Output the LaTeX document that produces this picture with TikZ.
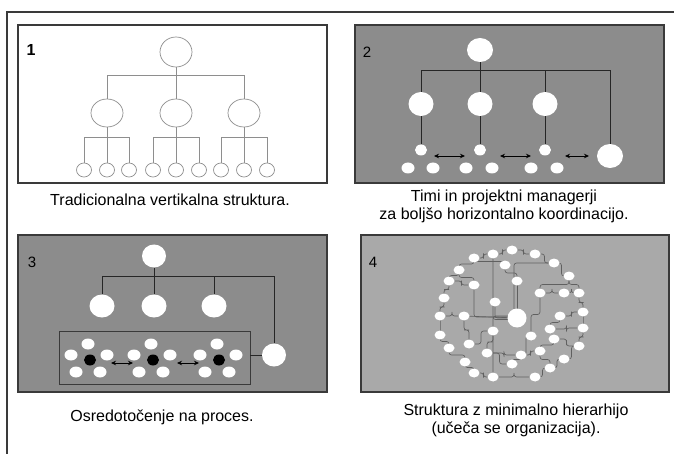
\documentclass[tikz,border=0pt]{standalone}
\usepackage{fontspec}
\setmainfont{Liberation Sans}
\usetikzlibrary{shapes.geometric,arrows.meta,calc}
\definecolor{framegray}{HTML}{3A3A3A}
\definecolor{boxgray}{HTML}{8C8C8C}
\definecolor{lightbox}{HTML}{A9A9A9}
\definecolor{thinline}{HTML}{8E8E8E}
\definecolor{netline}{HTML}{606060}
\begin{document}
\begin{tikzpicture}[x=1pt,y=-1pt,
  panel/.style={draw=framegray, line width=1.2pt},
  hollow/.style={ellipse, draw=thinline, line width=0.7pt, fill=white, inner sep=0pt},
  solid/.style={ellipse, fill=white, draw=none, inner sep=0pt},
  blk/.style={ellipse, fill=black, draw=none, inner sep=0pt, minimum width=12pt, minimum height=11pt},
  treeline/.style={draw=thinline, line width=0.7pt},
  darkline/.style={draw=black!85, line width=0.8pt},
  net/.style={draw=netline, line width=0.65pt, rounded corners=2.5pt},
  twoway/.style={black, line width=0.8pt, {Stealth[length=5pt,width=4.5pt]}-{Stealth[length=5pt,width=4.5pt]}},
  caption/.style={font=\fontsize{16}{18}\selectfont, align=center, inner sep=0pt},
  numlabel/.style={font=\fontsize{15}{16}\selectfont, inner sep=0pt}
]
\useasboundingbox (0,0) rectangle (674,454);
\fill[white] (0,0) rectangle (674,454);

% outer frame (top and left edges)
\draw[draw=framegray, line width=1.6pt] (7,454) -- (7,12) -- (674,12);

% ---------- panel 1: traditional vertical structure ----------
\draw[panel, fill=white] (18,25) rectangle (327,183);
\node[numlabel, font=\fontsize{16}{17}\selectfont\bfseries] (l1) at (31,50) {1};
\node[hollow, minimum width=32pt, minimum height=30pt] (t1) at (176,52) {};
\foreach \i/\x in {1/107,2/176,3/244}
  \node[hollow, minimum width=32pt, minimum height=28pt] (m1\i) at (\x,113) {};
\foreach \i/\x in {1/84,2/107,3/129,4/153,5/176,6/199,7/221,8/244,9/267}
  \node[hollow, minimum width=15pt, minimum height=14pt] (s1\i) at (\x,170) {};
\coordinate (b1) at (176,75);
\draw[treeline] (t1) -- (b1) (b1) -| (m11) (b1) -- (m12) (b1) -| (m13);
\foreach \m/\a/\b/\c/\x in {1/1/2/3/107,2/4/5/6/176,3/7/8/9/244} {
  \coordinate (c1\m) at (\x,137);
  \draw[treeline] (m1\m) -- (c1\m) (c1\m) -| (s1\a) (c1\m) -- (s1\b) (c1\m) -| (s1\c);
}
\node[caption] (cap1) at (170,200) {Tradicionalna vertikalna struktura.};

% ---------- panel 2: teams and project managers ----------
\draw[panel, fill=boxgray] (355,25) rectangle (664,183);
\node[numlabel] (l2) at (367,52) {2};
\node[solid, minimum width=26pt, minimum height=24pt] (t2) at (480,50) {};
\foreach \i/\x in {1/421,2/480,3/545} {
  \node[solid, minimum width=25pt, minimum height=24pt] (p2\i) at (\x,104) {};
  \node[solid, minimum width=12pt, minimum height=11pt] (q2\i) at (\x,150) {};
}
\node[solid, minimum width=26pt, minimum height=24pt] (pm2) at (610,156) {};
\foreach \i/\x in {1/408,2/433,3/466,4/492,5/531,6/557}
  \node[solid, minimum width=13pt, minimum height=11pt] (r2\i) at (\x,168) {};
\coordinate (b2) at (480,70);
\draw[darkline] (t2) -- (b2) (b2) -| (p21) (b2) -- (p22) (b2) -| (p23) (b2) -| (pm2);
\foreach \i in {1,2,3} \draw[darkline] (p2\i) -- (q2\i);
\foreach \k/\xa/\xb in {1/434/465,2/500/531,3/565/589} {
  \coordinate (a2\k) at (\xa,156);
  \coordinate (e2\k) at (\xb,156);
  \draw[twoway] (a2\k) -- (e2\k);
}
\node[caption] (cap2) at (504,206) {Timi in projektni managerji\\za boljšo horizontalno koordinacijo.};

% ---------- panel 3: process focus ----------
\draw[panel, fill=boxgray] (18,235) rectangle (327,392);
\node[numlabel] (l3) at (32,262) {3};
\node[solid, minimum width=24pt, minimum height=23pt] (t3) at (154,256) {};
\foreach \i/\x in {1/102,2/154,3/214}
  \node[solid, minimum width=25pt, minimum height=23pt] (p3\i) at (\x,306) {};
\node[solid, minimum width=24pt, minimum height=23pt] (pm3) at (274,355) {};
\node[draw=framegray, line width=0.8pt, minimum width=191pt, minimum height=53pt, inner sep=0pt] (proc) at (154.5,357.5) {};
\coordinate (b3) at (154,276);
\draw[darkline] (t3) -- (b3) (b3) -| (p31) (b3) -- (p32) (b3) -| (p33) (b3) -| (pm3);
\draw[darkline] (proc.east |- pm3) -- (pm3);
\foreach \k/\x in {1/90,2/153,3/219} {
  \node[blk] (k3\k) at (\x,360) {};
  \foreach \j/\dx/\dy in {a/-2/-16,b/-19/-5,c/17/-5,d/-14/12,e/10/12}
    \node[solid, minimum width=13pt, minimum height=11pt] (w3\k\j) at (\x+\dx,360+\dy) {};
}
\foreach \k/\xa/\xb in {1/111/133,2/177/199} {
  \coordinate (a3\k) at (\xa,363);
  \coordinate (e3\k) at (\xb,363);
  \draw[twoway] (a3\k) -- (e3\k);
}
\node[caption] (cap3) at (162,417) {Osredotočenje na proces.};

% ---------- panel 4: learning organization network ----------
\draw[panel, fill=lightbox] (361,235) rectangle (669,392);
\node[numlabel] (l4) at (373,262) {4};
\foreach \i/\x/\y in {
  1/512/250, 2/493/254, 3/474/258, 4/535/254, 5/459/270, 6/505/265,
  7/554/263, 8/449/281, 9/474/285, 10/517/281, 11/569/276, 12/444/298,
  13/495/302, 14/540/293, 15/564/293, 16/579/293, 17/440/316, 18/464/316,
  19/583/312, 20/560/316, 21/440/335, 22/493/331, 23/531/336, 24/550/329,
  25/583/328, 26/449/348, 27/469/344, 28/554/339, 29/487/353, 30/521/355,
  31/540/351, 32/564/359, 33/579/346, 34/465/362, 35/512/364, 36/550/368,
  37/474/373, 38/493/377, 39/535/377}
  \coordinate (n\i) at (\x,\y);
\coordinate (c4) at (517,318);
% links: horizontal-first steps
\foreach \a/\b in {1/4,4/7,7/11,2/1,3/2,8/9,17/18,14/15,15/16,19/20,24/25,
                   28/33,30/31,22/27,29/30,37/38,38/39,39/36,36/32,32/33,23/30,35/29}
  \draw[net] (n\a) -| ($(n\a)!.5!(n\b)$) |- (n\b);
% links: vertical-first steps
\foreach \a/\b in {3/5,5/8,8/12,12/17,17/21,21/26,26/34,34/37,11/16,16/19,
                   19/25,25/33,11/14,20/24,28/31,14/23,30/35,22/29,5/9,6/10,31/36,27/18,6/3}
  \draw[net] (n\a) |- ($(n\a)!.5!(n\b)$) -| (n\b);
% links into the centre
\draw[net] (n10) -- (c4);
\draw[net] (n13) |- (c4);
\draw[net] (n18) -- (c4);
\draw[net] (n2) |- ([yshift=-1.5pt]c4);
\draw[net] ([yshift=2pt]c4) -| (n38);
\draw[net] (n7) -| ([xshift=-3pt]c4);
\draw[net] (n9) |- ([yshift=1pt]c4);
% nodes drawn above the links
\foreach \i in {1,...,39}
  \node[solid, minimum width=11pt, minimum height=9pt] (d\i) at (n\i) {};
\node[circle, fill=white, inner sep=0pt, minimum size=19pt] (hub) at (c4) {};
\node[caption] (cap4) at (516,420) {Struktura z minimalno hierarhijo\\(učeča se organizacija).};
\end{tikzpicture}
\end{document}
